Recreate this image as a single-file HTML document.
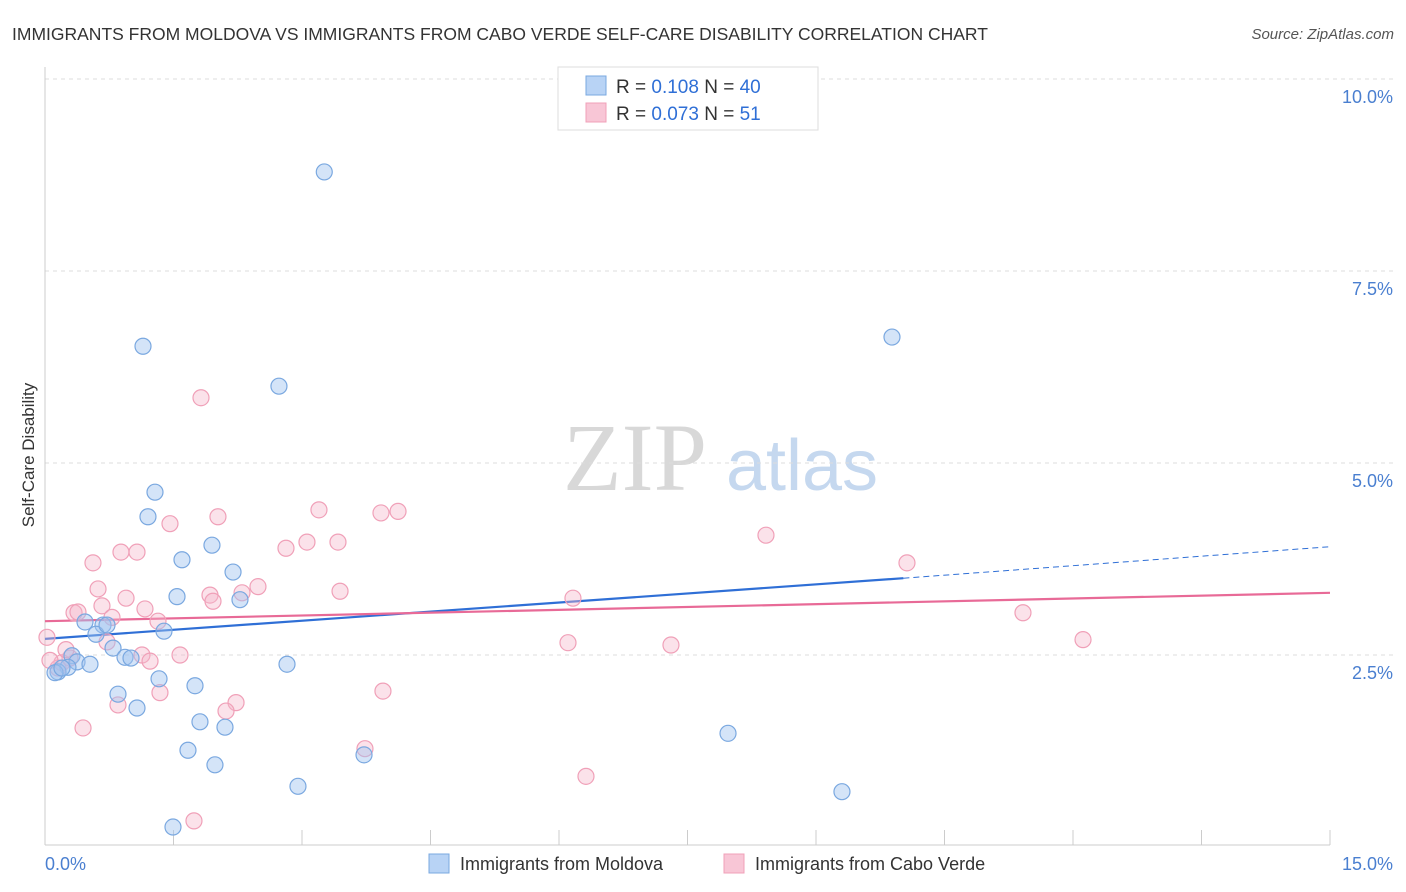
<!DOCTYPE html>
<html><head><meta charset="utf-8"><style>
body{margin:0;background:#fff;font-family:"Liberation Sans",sans-serif;}
svg{display:block}
</style></head><body>
<svg id="chart" width="1406" height="892">
<text x="12" y="40" font-size="17.5" fill="#333">IMMIGRANTS FROM MOLDOVA VS IMMIGRANTS FROM CABO VERDE SELF-CARE DISABILITY CORRELATION CHART</text>
<text x="1394" y="39" font-size="15" fill="#555" font-style="italic" text-anchor="end">Source: ZipAtlas.com</text>
<g>
<text x="635" y="490" font-size="96" fill="#d8d8d8" font-family="Liberation Serif,serif" text-anchor="middle">ZIP</text>
<text x="802" y="490" font-size="72" fill="#c5d8ef" text-anchor="middle">atlas</text>
</g>
<text x="34" y="455" font-size="17" fill="#333" text-anchor="middle" transform="rotate(-90 34 455)">Self-Care Disability</text>
<g id="grid"></g><g id="axes"></g><g id="trends"></g><g id="points"></g>
<g>
<rect x="558" y="67" width="260" height="63" fill="#fff" stroke="#ddd"/>
<rect x="586" y="76" width="20" height="19" fill="#b8d3f5" stroke="#7aa8e0"/>
<rect x="586" y="103" width="20" height="19" fill="#f8c6d6" stroke="#f0a0b8"/>
<text x="616" y="93" font-size="19" fill="#333">R = <tspan fill="#2f6fd6">0.108</tspan>   N = <tspan fill="#2f6fd6">40</tspan></text>
<text x="616" y="120" font-size="19" fill="#333">R = <tspan fill="#2f6fd6">0.073</tspan>   N = <tspan fill="#2f6fd6"> 51</tspan></text>
</g>
<g>
<rect x="429" y="854" width="20" height="19" fill="#b8d3f5" stroke="#7aa8e0"/>
<text x="460" y="870" font-size="18" fill="#333">Immigrants from Moldova</text>
<rect x="724" y="854" width="20" height="19" fill="#f8c6d6" stroke="#f0a0b8"/>
<text x="755" y="870" font-size="18" fill="#333">Immigrants from Cabo Verde</text>
</g>
</svg>
<script>
const blueX=[3.26,1.144,2.731,9.887,1.284,1.202,1.949,1.599,2.195,1.541,2.276,1.389,0.467,0.677,0.595,0.794,0.724,0.934,1.004,0.315,0.374,0.525,0.268,0.152,0.117,0.198,1.331,1.751,2.825,0.852,1.074,1.809,2.101,1.669,1.984,3.724,7.973,2.953,9.303,1.494];
const blueY=[8.79,6.52,6.00,6.64,4.62,4.30,3.93,3.74,3.58,3.26,3.22,2.81,2.93,2.89,2.77,2.59,2.89,2.47,2.46,2.49,2.41,2.38,2.34,2.28,2.27,2.33,2.19,2.10,2.38,1.99,1.81,1.63,1.56,1.26,1.07,1.20,1.48,0.79,0.72,0.26];
const pinkX=[1.821,3.198,3.922,4.121,2.019,1.459,8.416,3.058,3.420,2.813,0.887,1.074,0.560,10.062,2.486,0.619,3.444,1.926,2.300,0.946,1.961,6.163,0.665,1.167,0.339,0.385,0.782,1.319,11.416,0.023,0.724,6.105,7.307,12.117,1.576,1.132,1.226,0.292,0.198,0.152,3.945,1.342,2.230,2.113,0.852,0.444,3.735,6.315,1.739,0.058,0.245];
const pinkY=[5.85,4.39,4.35,4.37,4.30,4.21,4.06,3.97,3.97,3.89,3.84,3.84,3.70,3.70,3.39,3.36,3.33,3.28,3.31,3.24,3.20,3.24,3.14,3.10,3.05,3.06,2.99,2.94,3.05,2.73,2.67,2.66,2.63,2.70,2.50,2.50,2.42,2.46,2.40,2.33,2.03,2.01,1.88,1.77,1.85,1.55,1.28,0.92,0.34,2.43,2.57];
const blueTrend=[[0,2.71],[10.02,3.50],[15,3.91]];
const pinkTrend=[[0,2.94],[15,3.31]];
const yTicks=[2.5,5.0,7.5,10.0];
const yTickLabels=["2.5%","5.0%","7.5%","10.0%"];
const xTickCount=11;
const NS="http://www.w3.org/2000/svg";
const X=v=>45+v/15*1285, Y=v=>847-v*76.8;
function mk(tag,attrs,parent){const e=document.createElementNS(NS,tag);for(const k in attrs)e.setAttribute(k,attrs[k]);document.getElementById(parent).appendChild(e);return e;}
yTicks.forEach((t,i)=>{
 const l=mk('line',{x1:45,x2:1395,y1:Y(t),y2:Y(t),stroke:'#ddd','stroke-dasharray':'4,4'},'grid');
 
 
 const tx=mk('text',{x:1393,y:Y(t)+24,'font-size':18,fill:'#4a7fd0','text-anchor':'end'},'grid');
 tx.textContent=yTickLabels[i];
 
 
});
const ax=mk('line',{x1:45,x2:45,y1:67,y2:845,stroke:'#ccc'},'axes');


const xa=mk('line',{x1:45,x2:1330,y1:845,y2:845,stroke:'#ccc'},'axes');


for(let i=0;i<xTickCount;i++){
 const x=X(i*1.5);
 const t=mk('line',{x1:x,x2:x,y1:830,y2:845,stroke:'#ccc'},'axes');
 
 
}
[["0.0%",45,'start'],["15.0%",1393,'end']].forEach(a=>{
 const t=mk('text',{x:a[1],y:870,'font-size':18,fill:'#4a7fd0','text-anchor':a[2]},'axes');
 t.textContent=a[0];
 
 
});
pinkX.forEach((v,i)=>{
 const c=mk('circle',{cx:X(v),cy:Y(pinkY[i]),r:8,fill:'rgba(246,182,202,0.4)',stroke:'#f0a0b8','stroke-width':1.2},'points');
 
 
});
blueX.forEach((v,i)=>{
 const c=mk('circle',{cx:X(v),cy:Y(blueY[i]),r:8,fill:'rgba(160,196,240,0.45)',stroke:'#7aa8e0','stroke-width':1.2},'points');
 
 
});
const b1=mk('line',{x1:X(blueTrend[0][0]),y1:Y(blueTrend[0][1]),x2:X(blueTrend[1][0]),y2:Y(blueTrend[1][1]),stroke:'#2f6fd6','stroke-width':2.2},'trends');


const b2=mk('line',{x1:X(blueTrend[1][0]),y1:Y(blueTrend[1][1]),x2:X(blueTrend[2][0]),y2:Y(blueTrend[2][1]),stroke:'#2f6fd6','stroke-width':1,'stroke-dasharray':'6,4'},'trends');


const p1=mk('line',{x1:X(pinkTrend[0][0]),y1:Y(pinkTrend[0][1]),x2:X(pinkTrend[1][0]),y2:Y(pinkTrend[1][1]),stroke:'#e86a97','stroke-width':2.2},'trends');


</script>
</body></html>
